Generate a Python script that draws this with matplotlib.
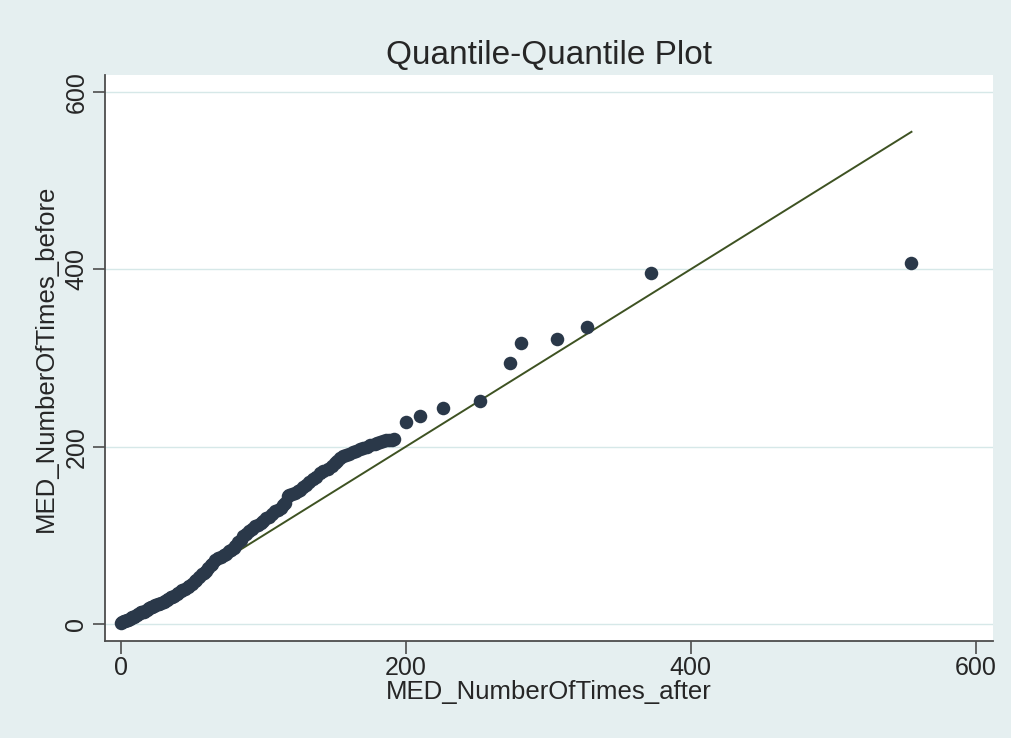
import numpy as np
import matplotlib
matplotlib.use("Agg")
import matplotlib.pyplot as plt

# sorted quantiles
after = [0, 1, 2, 3, 4, 5, 6, 7, 8, 9, 10, 11, 12, 13, 14, 15, 16, 17, 18, 19,
         20, 21, 22, 23, 24, 26, 27, 28, 30, 31, 32, 33, 35, 36, 37, 39, 40, 42,
         43, 45, 47, 48, 50, 52, 53, 55, 57, 58, 60, 61, 63, 64, 66, 68, 70, 72,
         74, 76, 77, 79, 80, 82, 84, 86, 88, 90, 92, 94, 96, 98, 100, 102, 104,
         106, 108, 110, 112, 114, 115, 117, 118, 120, 122, 124, 126, 128, 130,
         132, 135, 137, 140, 142, 145, 148, 150, 152, 154, 156, 158, 160, 163,
         165, 168, 170, 173, 175, 178, 180, 182, 184, 186, 188, 190, 192,
         200, 210, 226, 252, 273, 281, 306, 327, 372, 555]
before = [1, 2, 3, 3, 4, 5, 6, 7, 8, 8, 9, 10, 11, 12, 13, 13, 14, 15, 16, 17,
          18, 19, 19, 20, 21, 22, 23, 24, 25, 26, 27, 28, 30, 31, 32, 34, 35, 37,
          38, 40, 42, 43, 45, 48, 50, 53, 56, 57, 60, 63, 66, 68, 72, 74, 76, 78,
          79, 82, 84, 86, 88, 92, 95, 99, 102, 105, 107, 110, 112, 114, 116, 119,
          121, 124, 127, 129, 131, 134, 137, 144, 146, 147, 148, 150, 151, 154,
          157, 160, 164, 166, 170, 172, 175, 178, 181, 184, 187, 190, 191, 192,
          194, 195, 197, 198, 200, 202, 203, 204, 205, 206, 207, 208, 208, 209,
          228, 234, 244, 251, 294, 317, 321, 335, 396, 407]

ticks = [0, 200, 400, 600]

bg = "#e5eff0"
txt = "#262626"

plt.rcParams["font.family"] = ["Liberation Sans", "DejaVu Sans"]

fig = plt.figure(figsize=(10.12, 7.38), dpi=100, facecolor=bg)
ax = fig.add_axes([0.1038, 0.1314, 0.8775, 0.767])
ax.set_facecolor("white")

ax.scatter(after, before, s=95, color="#2a3849", zorder=3, linewidths=0)
ref = np.array([min(after), max(after)])
ax.plot(ref, ref, color="#3e5222", lw=1.4, zorder=2)

ax.set_xlim(-11.2, 612.3)
ax.set_ylim(-19.2, 619.1)
ax.set_xticks(ticks)
ax.set_yticks(ticks)
ax.set_yticklabels([str(t) for t in ticks], rotation=90, va="center")
ax.grid(axis="y", color="#d6e8e8", lw=1.0, zorder=0)
ax.grid(axis="x", visible=False)

for side in ["top", "right"]:
    ax.spines[side].set_visible(False)
for side in ["left", "bottom"]:
    ax.spines[side].set_color("#4d4d4d")
    ax.spines[side].set_linewidth(1.3)

ax.tick_params(axis="both", direction="out", length=9, width=1.2,
               color="#4d4d4d", labelsize=18, labelcolor=txt)
ax.tick_params(axis="x", pad=2)
ax.tick_params(axis="y", pad=3)

ax.set_xlabel("MED_NumberOfTimes_after", fontsize=18.5, color=txt, labelpad=0)
ax.set_ylabel("MED_NumberOfTimes_before", fontsize=18.5, color=txt, labelpad=5)
ax.set_title("Quantile-Quantile Plot", fontsize=24, color=txt, pad=8)

fig.savefig("out.png", dpi=100, facecolor=bg)
